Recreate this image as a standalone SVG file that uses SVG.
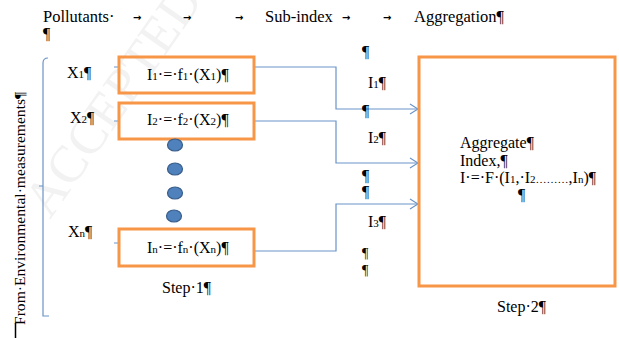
<svg xmlns="http://www.w3.org/2000/svg" width="619" height="338" viewBox="0 0 619 338">
<style>
text{font-family:"Liberation Serif","Times New Roman",serif;font-size:16px;fill:#000}
.hd{font-size:16.5px}
.tab{font-family:"DejaVu Sans",sans-serif;font-size:10px;font-weight:bold}
.box{fill:none;stroke:#F79646;stroke-width:3}
.ln{fill:none;stroke:#6A93C8;stroke-width:1.2}
.dot{fill:#4F81BD;stroke:#385D8A;stroke-width:1.2}
.sub{font-size:11px}
.wm{font-size:52px;fill:#f2f2f2;font-family:"Liberation Serif",serif}
</style>
<defs>
<marker id="ah" markerWidth="10" markerHeight="12" refX="9" refY="6" orient="auto" markerUnits="userSpaceOnUse">
<path d="M1,1 L9,6 L1,11" fill="none" stroke="#6A93C8" stroke-width="1.2"/>
</marker>
</defs>
<rect width="619" height="338" fill="#fff"/>
<text class="wm" transform="translate(50,220) rotate(-55)">ACCEPTED</text>

<g id="header">
<text class="hd" x="43" y="22">Pollutants·</text>
<text class="tab" x="133" y="21">→</text>
<text class="tab" x="183" y="21">→</text>
<text class="tab" x="235" y="21">→</text>
<text class="hd" x="265" y="22">Sub-index</text>
<text class="tab" x="342" y="21">→</text>
<text class="tab" x="383" y="21">→</text>
<text class="hd" x="414" y="22">Aggregation¶</text>
<text x="43" y="39">¶</text>
</g>

<g id="bracket">
<path class="ln" d="M48,58 Q43,58 43,63 L43,316 L49,316 M43,186 L39,186" />
<text transform="translate(25,325) rotate(-90)" style="font-size:15.6px">From·Environmental·measurements¶</text>
<line x1="15.5" y1="323" x2="15.5" y2="338" stroke="#000" stroke-width="1.5"/>
</g>

<g id="connectors">
<path class="ln" d="M114,67 L119,67 M114,121 L119,121 M114,243 L119,243"/>
<path class="ln" d="M254,67 L336,67 L336,109 L418,109" marker-end="url(#ah)"/>
<path class="ln" d="M254,121 L336,121 L336,163 L418,163" marker-end="url(#ah)"/>
<path class="ln" d="M254,251 L336,251 L336,204 L418,204" marker-end="url(#ah)"/>
</g>

<g id="x1"><text x="67" y="78">X<tspan class="sub">1</tspan>¶</text></g>
<g id="x2"><text x="70" y="123">X<tspan class="sub">2</tspan>¶</text></g>
<g id="xn"><text x="68" y="237">X<tspan class="sub">n</tspan>¶</text></g>

<g id="box1">
<rect class="box" x="119" y="57" width="135" height="36"/>
<text x="147" y="80">I<tspan class="sub">1</tspan>·=·f<tspan class="sub">1</tspan>·(X<tspan class="sub">1</tspan>)¶</text>
</g>
<g id="box2">
<rect class="box" x="119" y="103" width="135" height="36"/>
<text x="147" y="125">I<tspan class="sub">2</tspan>·=·f<tspan class="sub">2</tspan>·(X<tspan class="sub">2</tspan>)¶</text>
</g>
<g id="dots">
<ellipse class="dot" cx="175" cy="145" rx="7.5" ry="6"/>
<ellipse class="dot" cx="175" cy="169" rx="7.5" ry="6"/>
<ellipse class="dot" cx="175" cy="193" rx="7.5" ry="6"/>
<ellipse class="dot" cx="174" cy="216" rx="7.5" ry="6"/>
</g>
<g id="boxn">
<rect class="box" x="119" y="229" width="135" height="37"/>
<text x="147" y="253">I<tspan class="sub">n</tspan>·=·f<tspan class="sub">n</tspan>·(X<tspan class="sub">n</tspan>)¶</text>
</g>
<g id="step1"><text x="162" y="293">Step·1¶</text></g>

<g id="midcol">
<text x="362" y="57">¶</text>
<text x="368" y="88">I<tspan class="sub">1</tspan>¶</text>
<text x="362" y="116">¶</text>
<text x="368" y="143">I<tspan class="sub">2</tspan>¶</text>
<text x="362" y="181">¶</text>
<text x="362" y="197">¶</text>
<text x="368" y="227">I<tspan class="sub">3</tspan>¶</text>
<text x="362" y="258" style="font-size:14px">¶</text>
<text x="362" y="275" style="font-size:14px">¶</text>
</g>

<g id="aggregate">
<rect class="box" x="419" y="57" width="196" height="229"/>
<text x="460" y="148">Aggregate¶</text>
<text x="460" y="166">Index,¶</text>
<text x="460" y="183">I·=·F·(I<tspan class="sub">1</tspan>,·I<tspan class="sub">2</tspan><tspan font-size="11">………</tspan>,I<tspan class="sub">n</tspan>)¶</text>
<text x="518" y="200">¶</text>
</g>
<g id="step2"><text x="497" y="312">Step·2¶</text></g>
</svg>
